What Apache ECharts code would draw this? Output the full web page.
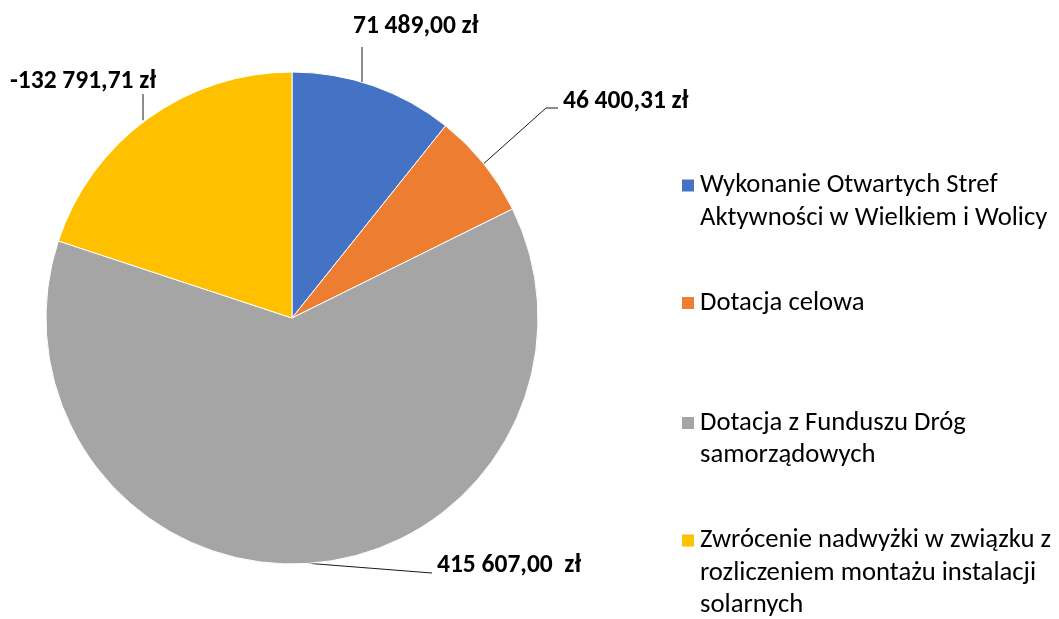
<!DOCTYPE html>
<html><head><meta charset="utf-8">
<script src="https://cdn.jsdelivr.net/npm/echarts@6/dist/echarts.min.js"></script>
<style>html,body{margin:0;padding:0;background:#fff}#c{width:1059px;height:619px}</style>
</head><body><div id="c"></div>
<script>
// ---- data ----
const categories = [
  'Wykonanie Otwartych Stref Aktywności w Wielkiem i Wolicy',
  'Dotacja celowa',
  'Dotacja z Funduszu Dróg samorządowych',
  'Zwrócenie nadwyżki w związku z rozliczeniem montażu instalacji solarnych'
];
const values = [71489.00, 46400.31, 415607.00, -132791.71];
const unitSuffix = [' zł', ' zł', '  zł', ' zł'];
const legendLines = [
  ['Wykonanie Otwartych Stref', 'Aktywności w Wielkiem i Wolicy'],
  ['Dotacja celowa'],
  ['Dotacja z Funduszu Dróg', 'samorządowych'],
  ['Zwrócenie nadwyżki w związku z', 'rozliczeniem montażu instalacji', 'solarnych']
];
const colors = ['#4472C4', '#ED7D31', '#A5A5A5', '#FFC000'];

// ---- layout / style ----
const FONT = 'Carlito, Lato, sans-serif';
const CX = 292, CY = 318, R = 246;
const labelPos = [{x: 353, y: 27}, {x: 563, y: 102}, {x: 437, y: 566}, {x: 10, y: 82}];
const leader = [
  {type: 'v', dx: 9, endDy: 20, inset: 4},
  {type: 'elbow'},
  {type: 'slant'},
  {type: 'v', dx: 133, endDy: 12, inset: -2}
];
const legendIconY = [185.5, 303, 423, 540.5];
const LH = 32.5;

function fmt(v, i) {
  const neg = v < 0;
  const parts = Math.abs(v).toFixed(2).split('.');
  const int = parts[0].replace(/\B(?=(\d{3})+(?!\d))/g, ' ');
  return (neg ? '-' : '') + int + ',' + parts[1] + unitSuffix[i];
}

const absTotal = values.reduce((s, v) => s + Math.abs(v), 0);
function midEdge(i) {
  let before = 0;
  for (let k = 0; k < i; k++) before += Math.abs(values[k]);
  const a = (before + Math.abs(values[i]) / 2) / absTotal * 2 * Math.PI;
  return [CX + R * Math.sin(a), CY - R * Math.cos(a)];
}

const chart = echarts.init(document.getElementById('c'), null, {renderer: 'canvas'});
chart.setOption({
  animation: false,
  backgroundColor: '#fff',
  color: colors,
  legend: categories.map((name, i) => {
    const n = legendLines[i].length;
    return {
      data: [name],
      left: 680,
      top: legendIconY[i] - (2 * n - 1) * LH / 2,
      padding: 0,
      orient: 'vertical',
      icon: 'rect',
      itemWidth: 14,
      itemHeight: 14,
      selectedMode: false,
      formatter: () => '\n'.repeat(n - 1) + legendLines[i].join('\n'),
      textStyle: {
        fontFamily: FONT, fontSize: 26.7, lineHeight: LH, color: '#000'
      }
    };
  }),
  series: [{
    type: 'pie',
    center: [CX, CY],
    radius: R,
    startAngle: 90,
    clockwise: true,
    avoidLabelOverlap: false,
    itemStyle: {borderColor: '#fff', borderWidth: 1},
    label: {
      show: true,
      position: 'outside',
      fontFamily: FONT, fontSize: 25.5, fontWeight: 'bold', color: '#000',
      formatter: p => fmt(values[p.dataIndex], p.dataIndex)
    },
    labelLine: {show: true, length: 10, length2: 10, lineStyle: {color: '#1a1a1a', width: 1}},
    labelLayout: function (params) {
      const i = params.dataIndex;
      const p = labelPos[i];
      const L = leader[i];
      let pts;
      if (L.type === 'v') {
        const lx = p.x + L.dx;
        const yc = CY - Math.sqrt(R * R - (lx - CX) * (lx - CX)) + L.inset;
        const ye = p.y + L.endDy;
        pts = [[lx, yc], [lx, (yc + ye) / 2], [lx, ye]];
      } else if (L.type === 'elbow') {
        const s = midEdge(i);
        pts = [s, [p.x - 17, p.y + 6], [p.x - 5, p.y + 6]];
      } else {
        const s = midEdge(i);
        pts = [s, [(s[0] + p.x - 5) / 2, (s[1] + p.y + 7) / 2], [p.x - 5, p.y + 7]];
      }
      return {x: p.x, y: p.y, align: 'left', verticalAlign: 'middle', labelLinePoints: pts};
    },
    data: categories.map((name, i) => ({name: name, value: Math.abs(values[i])}))
  }]
});
</script></body></html>
